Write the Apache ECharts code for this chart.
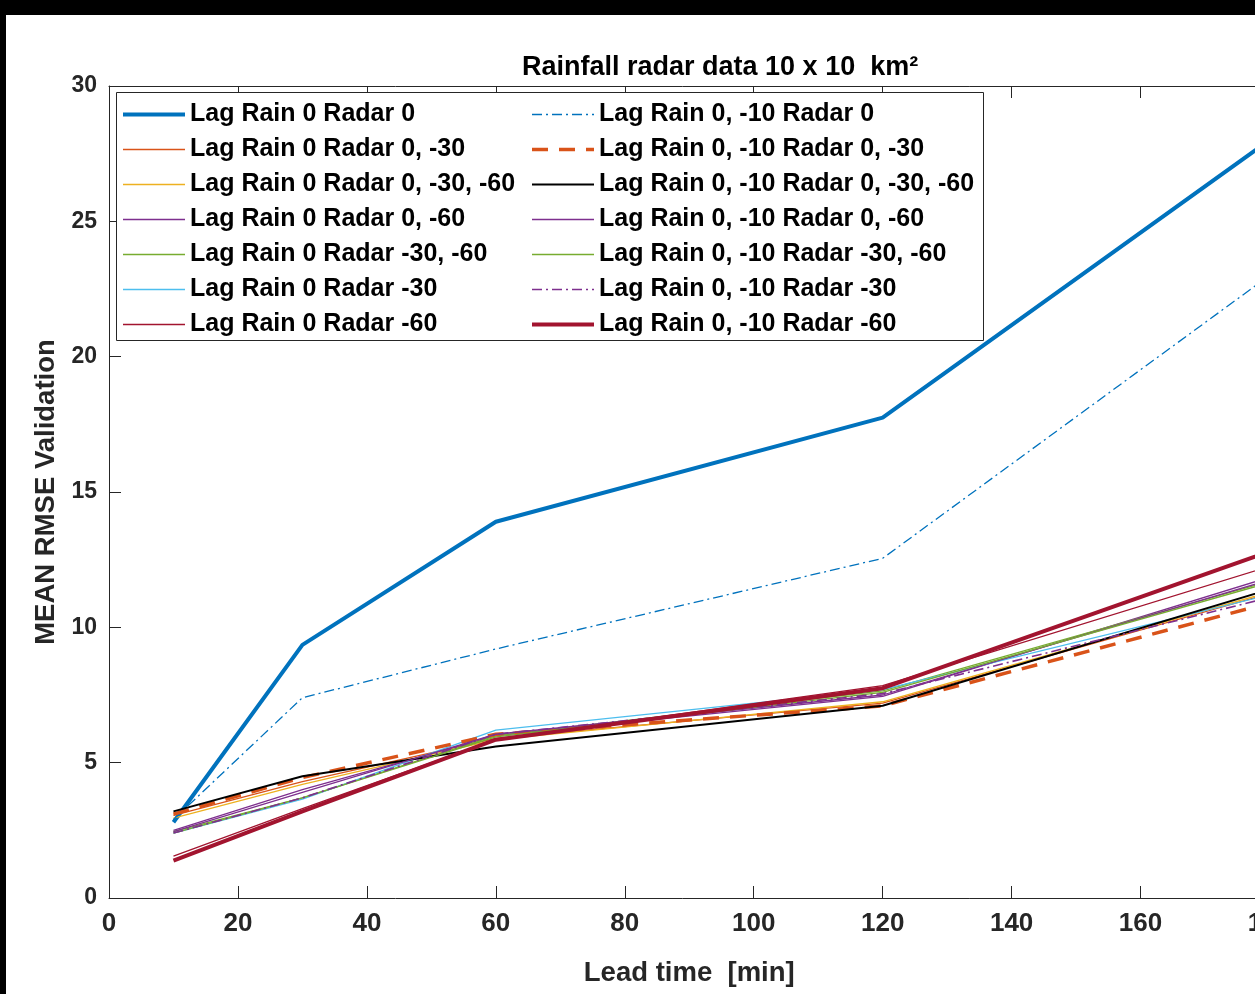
<!DOCTYPE html>
<html>
<head>
<meta charset="utf-8">
<title>Rainfall radar data 10 x 10 km²</title>
<script src="https://cdn.jsdelivr.net/npm/echarts@6/dist/echarts.min.js"></script>
<style>
  html, body { margin: 0; padding: 0; background: #fff; }
  #chart { width: 1255px; height: 994px; }
</style>
</head>
<body>
<div id="chart"></div>
<script>
// Lead times (minutes) at which the validation RMSE was computed
const leadTimes = [10, 30, 60, 120, 180];

// Mean RMSE per configuration (rain lag / radar lag combinations)
const r0_d0        = [2.8, 9.35, 13.9, 17.75, 28.0];
const r0_d0_30     = [3.05, 4.3, 5.9, 7.2, 11.25];
const r0_d0_30_60  = [2.95, 4.2, 5.85, 7.25, 11.3];
const r0_d0_60     = [2.5, 4.0, 6.0, 7.45, 11.85];
const r0_d30_60    = [2.45, 3.7, 6.0, 7.65, 11.7];
const r0_d30       = [2.4, 3.65, 6.2, 7.7, 11.2];
const r0_d60       = [1.55, 3.3, 5.85, 7.85, 12.25];
const r10_d0       = [2.9, 7.4, 9.2, 12.55, 23.0];
const r10_d0_30    = [3.1, 4.45, 6.05, 7.1, 10.9];
const r10_d0_30_60 = [3.2, 4.5, 5.6, 7.1, 11.4];
const r10_d0_60    = [2.45, 3.9, 6.05, 7.5, 11.75];
const r10_d30_60   = [2.4, 3.7, 5.95, 7.6, 11.65];
const r10_d30      = [2.4, 3.7, 6.05, 7.55, 11.1];
const r10_d60      = [1.38, 3.2, 5.85, 7.75, 12.8];

const leftNames = [
  'Lag Rain 0 Radar 0',
  'Lag Rain 0 Radar 0, -30',
  'Lag Rain 0 Radar 0, -30, -60',
  'Lag Rain 0 Radar 0, -60',
  'Lag Rain 0 Radar -30, -60',
  'Lag Rain 0 Radar -30',
  'Lag Rain 0 Radar -60'
];
const rightNames = [
  'Lag Rain 0, -10 Radar 0',
  'Lag Rain 0, -10 Radar 0, -30',
  'Lag Rain 0, -10 Radar 0, -30, -60',
  'Lag Rain 0, -10 Radar 0, -60',
  'Lag Rain 0, -10 Radar -30, -60',
  'Lag Rain 0, -10 Radar -30',
  'Lag Rain 0, -10 Radar -60'
];

const xTicks = { min: 0, max: 180, interval: 20 };
const yTicks = { min: 0, max: 30, interval: 5 };

const AXIS = '#262626';
const FONT = '"Liberation Sans", Arial, sans-serif';

function pair(values) {
  return leadTimes.map((t, i) => [t, values[i]]);
}

function line(name, values, color, width, type) {
  return {
    name: name,
    type: 'line',
    data: pair(values),
    symbol: 'none',
    smooth: false,
    animation: false,
    lineStyle: { color: color, width: width, type: type || 'solid' },
    itemStyle: { color: color },
    emphasis: { disabled: true }
  };
}

const dashDot = [10, 4, 2, 4];
const THIN = 1.3;

const series = [
  line(leftNames[0], r0_d0, '#0072BD', 4),
  line(leftNames[1], r0_d0_30, '#D95319', THIN),
  line(leftNames[2], r0_d0_30_60, '#EDB120', THIN),
  line(leftNames[3], r0_d0_60, '#7E2F8E', THIN),
  line(leftNames[4], r0_d30_60, '#77AC30', THIN),
  line(leftNames[5], r0_d30, '#4DBEEE', THIN),
  line(leftNames[6], r0_d60, '#A2142F', THIN),
  line(rightNames[0], r10_d0, '#0072BD', 1.3, dashDot),
  line(rightNames[1], r10_d0_30, '#D95319', 3.5, [16, 11]),
  line(rightNames[2], r10_d0_30_60, '#000000', 2),
  line(rightNames[3], r10_d0_60, '#7E2F8E', THIN),
  line(rightNames[4], r10_d30_60, '#77AC30', THIN),
  line(rightNames[5], r10_d30, '#7E2F8E', 1.6, dashDot),
  line(rightNames[6], r10_d60, '#A2142F', 4)
];

function legendColumn(names, left, iconWidth) {
  return {
    show: true,
    orient: 'vertical',
    left: left,
    top: 97,
    padding: 0,
    itemGap: 0,
    itemWidth: iconWidth,
    itemHeight: 14,
    selectedMode: false,
    data: names,
    z: 5,
    // line-only samples: hide the marker drawn at the middle of each sample
    itemStyle: {
      color: 'rgba(0,0,0,0)',
      borderColor: 'rgba(0,0,0,0)',
      borderWidth: 0,
      opacity: 0
    },
    lineStyle: { width: 'inherit', type: 'inherit', opacity: 1 },
    textStyle: {
      fontFamily: FONT,
      fontWeight: 'bold',
      fontSize: 25,
      color: '#000',
      lineHeight: 35
    }
  };
}

const chart = echarts.init(document.getElementById('chart'), null, { renderer: 'canvas' });

chart.setOption({
  backgroundColor: '#ffffff',
  animation: false,
  title: {
    text: 'Rainfall radar data 10 x 10  km²',
    left: 522,
    top: 54,
    padding: 0,
    textStyle: {
      fontFamily: FONT,
      fontWeight: 'bold',
      fontSize: 27,
      color: '#000'
    }
  },
  grid: {
    left: 109,
    top: 86,
    right: -14.5,
    bottom: 96,
    outerBoundsMode: 'none',
    containLabel: false
  },
  legend: [
    legendColumn(leftNames, 121, 62),
    legendColumn(rightNames, 530, 62)
  ],
  xAxis: [
    {
      type: 'value',
      min: xTicks.min,
      max: xTicks.max,
      interval: xTicks.interval,
      position: 'bottom',
      name: 'Lead time  [min]',
      nameLocation: 'middle',
      nameGap: 61,
      nameTextStyle: {
        fontFamily: FONT,
        fontWeight: 'bold',
        fontSize: 27.5,
        color: AXIS
      },
      axisLine: { show: true, onZero: false, lineStyle: { color: AXIS, width: 1 } },
      axisTick: { show: true, inside: true, length: 12, lineStyle: { color: AXIS } },
      axisLabel: {
        show: true,
        margin: 13,
        fontFamily: FONT,
        fontWeight: 'bold',
        fontSize: 26,
        color: AXIS,
        showMaxLabel: true
      },
      splitLine: { show: false }
    },
    {
      type: 'value',
      min: xTicks.min,
      max: xTicks.max,
      interval: xTicks.interval,
      position: 'top',
      axisLine: { show: true, onZero: false, lineStyle: { color: AXIS, width: 1 } },
      axisTick: { show: true, inside: true, length: 12, lineStyle: { color: AXIS } },
      axisLabel: { show: false },
      splitLine: { show: false }
    }
  ],
  yAxis: [
    {
      type: 'value',
      min: yTicks.min,
      max: yTicks.max,
      interval: yTicks.interval,
      position: 'left',
      name: 'MEAN RMSE Validation',
      nameLocation: 'middle',
      nameGap: 42,
      nameRotate: 90,
      nameTextStyle: {
        fontFamily: FONT,
        fontWeight: 'bold',
        fontSize: 27.5,
        color: AXIS
      },
      axisLine: { show: true, onZero: false, lineStyle: { color: AXIS, width: 1 } },
      axisTick: { show: true, inside: true, length: 12, lineStyle: { color: AXIS } },
      axisLabel: {
        show: true,
        margin: 12,
        fontFamily: FONT,
        fontWeight: 'bold',
        fontSize: 23,
        color: AXIS
      },
      splitLine: { show: false }
    },
    {
      type: 'value',
      min: yTicks.min,
      max: yTicks.max,
      interval: yTicks.interval,
      position: 'right',
      axisLine: { show: true, onZero: false, lineStyle: { color: AXIS, width: 1 } },
      axisTick: { show: true, inside: true, length: 12, lineStyle: { color: AXIS } },
      axisLabel: { show: false },
      splitLine: { show: false }
    }
  ],
  graphic: [
    // legend frame
    {
      type: 'rect',
      z: 4,
      shape: { x: 116.5, y: 92.5, width: 867, height: 248 },
      style: { fill: '#ffffff', stroke: AXIS, lineWidth: 1 }
    },
    // dark frame along the top and left edges
    {
      type: 'rect',
      z: 10,
      shape: { x: 0, y: 0, width: 1255, height: 15 },
      style: { fill: '#000000' }
    },
    {
      type: 'rect',
      z: 10,
      shape: { x: 0, y: 0, width: 6, height: 994 },
      style: { fill: '#000000' }
    }
  ],
  series: series
});
</script>
</body>
</html>
